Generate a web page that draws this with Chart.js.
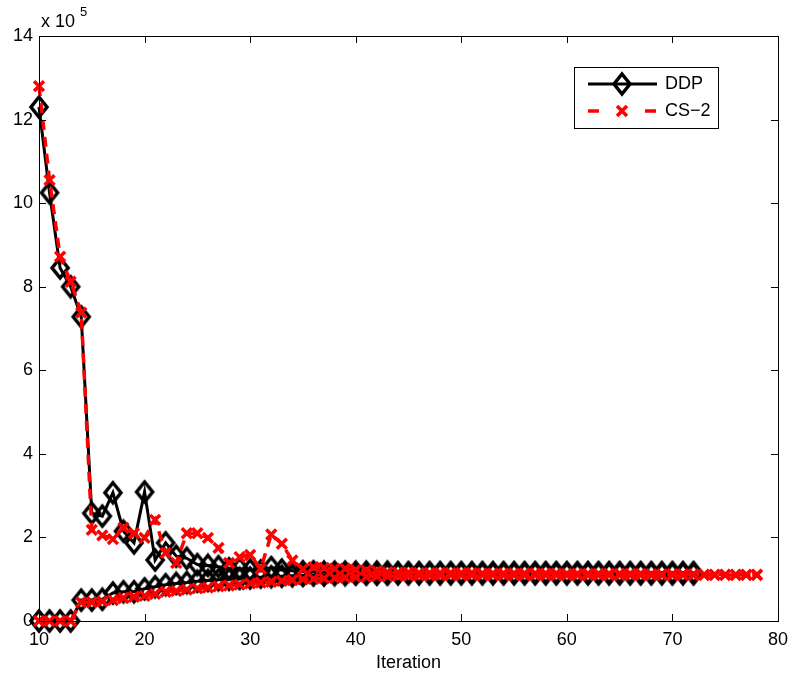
<!DOCTYPE html>
<html>
<head>
<meta charset="utf-8">
<script src="https://cdn.jsdelivr.net/npm/chart.js@4.4.0/dist/chart.umd.min.js"></script>
<style>
  html, body { margin: 0; padding: 0; background: #fff; }
  #wrap { width: 796px; height: 680px; }
</style>
</head>
<body>
<div id="wrap"><canvas id="chart" width="796" height="680"></canvas></div>
<script>
// Iteration numbers (x) and values in units of 10^5
const iterations = [10, 11, 12, 13, 14, 15, 16, 17, 18, 19, 20, 21, 22, 23, 24, 25, 26, 27, 28, 29,
  30, 31, 32, 33, 34, 35, 36, 37, 38, 39, 40, 41, 42, 43, 44, 45, 46, 47, 48, 49,
  50, 51, 52, 53, 54, 55, 56, 57, 58, 59, 60, 61, 62, 63, 64, 65, 66, 67, 68, 69,
  70, 71, 72, 73, 74, 75, 76, 77, 78];

// DDP runs from 10 to 72
const ddpUpper = [12.3, 10.25, 8.45, 8.0, 7.28, 2.58, 2.51, 3.07, 2.15, 1.87, 3.09, 1.46, 1.87, 1.55, 1.5, 1.35, 1.33, 1.3, 1.25, 1.25,
  1.22, 1.2, 1.28, 1.22, 1.2, 1.18, 1.18, 1.17, 1.17, 1.17, 1.17, 1.17, 1.17, 1.17, 1.16, 1.16, 1.16, 1.16, 1.16, 1.16,
  1.16, 1.16, 1.16, 1.16, 1.16, 1.16, 1.16, 1.16, 1.16, 1.16, 1.16, 1.16, 1.16, 1.16, 1.16, 1.16, 1.16, 1.16, 1.16, 1.16,
  1.16, 1.16, 1.16];
const ddpLower = [0, 0, 0, 0, 0.5, 0.5, 0.52, 0.67, 0.7, 0.7, 0.77, 0.82, 0.87, 0.9, 0.92, 0.95, 0.97, 0.99, 1.0, 1.02,
  1.03, 1.05, 1.06, 1.07, 1.08, 1.09, 1.1, 1.1, 1.11, 1.11, 1.12, 1.12, 1.12, 1.12, 1.13, 1.13, 1.13, 1.13, 1.13, 1.13,
  1.13, 1.13, 1.13, 1.13, 1.13, 1.13, 1.13, 1.13, 1.13, 1.13, 1.13, 1.13, 1.13, 1.13, 1.13, 1.13, 1.13, 1.13, 1.13, 1.13,
  1.13, 1.13, 1.13];

// CS-2 runs from 10 to 78
const csUpper = [12.8, 10.55, 8.72, 8.12, 7.38, 2.18, 2.05, 1.96, 2.23, 2.1, 1.99, 2.42, 1.63, 1.39, 2.1, 2.1, 1.99, 1.75, 1.39, 1.53,
  1.58, 1.25, 2.07, 1.85, 1.45, 1.24, 1.29, 1.27, 1.25, 1.25, 1.22, 1.21, 1.2, 1.17, 1.16, 1.16, 1.15, 1.15, 1.15, 1.15,
  1.15, 1.15, 1.14, 1.14, 1.14, 1.14, 1.14, 1.14, 1.14, 1.14, 1.13, 1.13, 1.13, 1.13, 1.13, 1.13, 1.13, 1.13, 1.12, 1.12,
  1.12, 1.12, 1.12, 1.11, 1.11, 1.11, 1.11, 1.11, 1.11];
const csLower = [0, 0, 0, 0, 0.45, 0.45, 0.47, 0.5, 0.55, 0.58, 0.6, 0.65, 0.7, 0.72, 0.75, 0.78, 0.8, 0.83, 0.85, 0.87,
  0.9, 0.92, 0.94, 0.96, 0.98, 1.0, 1.01, 1.02, 1.03, 1.04, 1.05, 1.06, 1.07, 1.07, 1.08, 1.08, 1.09, 1.09, 1.09, 1.1,
  1.1, 1.1, 1.1, 1.1, 1.1, 1.1, 1.1, 1.1, 1.1, 1.1, 1.1, 1.1, 1.1, 1.1, 1.1, 1.1, 1.1, 1.1, 1.1, 1.1,
  1.1, 1.1, 1.1, 1.1, 1.1, 1.1, 1.1, 1.1, 1.1];

const seriesNames = ['DDP', 'CS\u22122'];
const xTicks = [10, 20, 30, 40, 50, 60, 70, 80];
const yTicks = [0, 2, 4, 6, 8, 10, 12, 14];

const FONT = 'Liberation Sans, Arial, Helvetica, sans-serif';

function points(values) {
  return values.map((v, i) => ({ x: iterations[i], y: v }));
}

// MATLAB-like diamond marker: a little taller than wide, hollow
function makeDiamond() {
  const c = document.createElement('canvas');
  c.width = 22;
  c.height = 26;
  const g = c.getContext('2d');
  g.strokeStyle = '#000';
  g.lineWidth = 3.5;
  g.lineJoin = 'miter';
  g.beginPath();
  g.moveTo(11, 3);
  g.lineTo(19, 13);
  g.lineTo(11, 23);
  g.lineTo(3, 13);
  g.closePath();
  g.stroke();
  return c;
}
const diamond = makeDiamond();

const ddpStyle = {
  borderColor: '#000',
  borderWidth: 3,
  pointStyle: diamond,
  pointRadius: 9,
  pointBorderColor: '#000',
  pointBackgroundColor: 'rgba(0,0,0,0)',
  tension: 0,
  clip: false,
  order: 1
};
const csStyle = {
  borderColor: '#ff0000',
  borderWidth: 3.5,
  borderDash: [10, 7],
  pointStyle: 'crossRot',
  pointRadius: 7,
  pointBorderColor: '#ff0000',
  pointBackgroundColor: '#ff0000',
  pointBorderWidth: 3.5,
  tension: 0,
  clip: false,
  order: 0
};

// Box, inward ticks, exponent and legend in the MATLAB style
const matlabFrame = {
  id: 'matlabFrame',
  afterDraw(chart) {
    const ctx = chart.ctx;
    const a = chart.chartArea;
    const xs = chart.scales.x;
    const ys = chart.scales.y;
    ctx.save();
    ctx.strokeStyle = '#000';
    ctx.lineWidth = 1;
    ctx.strokeRect(a.left + 0.5, a.top + 0.5, a.right - a.left, a.bottom - a.top);
    ctx.beginPath();
    for (const t of xTicks) {
      const px = Math.round(xs.getPixelForValue(t)) + 0.5;
      ctx.moveTo(px, a.bottom); ctx.lineTo(px, a.bottom - 7);
      ctx.moveTo(px, a.top); ctx.lineTo(px, a.top + 7);
    }
    for (const t of yTicks) {
      const py = Math.round(ys.getPixelForValue(t)) + 0.5;
      ctx.moveTo(a.left, py); ctx.lineTo(a.left + 7, py);
      ctx.moveTo(a.right, py); ctx.lineTo(a.right - 7, py);
    }
    ctx.stroke();

    // x 10^5
    ctx.fillStyle = '#000';
    ctx.textBaseline = 'alphabetic';
    ctx.textAlign = 'left';
    ctx.font = '18px ' + FONT;
    ctx.fillText('x 10', 41, 27);
    ctx.font = '13px ' + FONT;
    ctx.fillText('5', 80, 16);

    // legend
    const lx = 574, ly = 67, lw = 144, lh = 61;
    ctx.fillStyle = '#fff';
    ctx.fillRect(lx, ly, lw, lh);
    ctx.strokeStyle = '#000';
    ctx.lineWidth = 1;
    ctx.strokeRect(lx + 0.5, ly + 0.5, lw, lh);

    const r1 = 84, r2 = 111;
    ctx.lineWidth = 3;
    ctx.beginPath();
    ctx.moveTo(588, r1); ctx.lineTo(657, r1);
    ctx.stroke();
    ctx.drawImage(diamond, 622 - diamond.width / 2, r1 - diamond.height / 2);

    ctx.strokeStyle = '#ff0000';
    ctx.fillStyle = '#ff0000';
    ctx.lineWidth = 3.5;
    ctx.beginPath();
    ctx.moveTo(588, r2); ctx.lineTo(599, r2);
    ctx.moveTo(645, r2); ctx.lineTo(656, r2);
    ctx.stroke();
    Chart.helpers.drawPoint(ctx, { pointStyle: 'crossRot', radius: 7, rotation: 0, borderWidth: 3.5 }, 622, r2);

    ctx.fillStyle = '#000';
    ctx.font = '18px ' + FONT;
    ctx.textBaseline = 'middle';
    ctx.fillText(seriesNames[0], 665, r1);
    ctx.fillText(seriesNames[1], 665, r2);
    ctx.restore();
  }
};

new Chart(document.getElementById('chart'), {
  type: 'line',
  data: {
    datasets: [
      Object.assign({ label: seriesNames[0], data: points(ddpUpper) }, ddpStyle),
      Object.assign({ label: seriesNames[0] + ' low', data: points(ddpLower) }, ddpStyle),
      Object.assign({ label: seriesNames[1], data: points(csUpper) }, csStyle),
      Object.assign({ label: seriesNames[1] + ' low', data: points(csLower) }, csStyle)
    ]
  },
  options: {
    responsive: false,
    animation: false,
    devicePixelRatio: 1,
    layout: { padding: { left: 0, right: 15, top: 36, bottom: 0 } },
    plugins: {
      legend: { display: false },
      tooltip: { enabled: false },
      title: { display: false }
    },
    scales: {
      x: {
        type: 'linear',
        min: 10,
        max: 80,
        afterBuildTicks: (s) => { s.ticks = xTicks.map(v => ({ value: v })); },
        afterFit: (s) => { s.height = 59; },
        grid: { display: false, drawTicks: false },
        border: { display: false },
        ticks: { color: '#000', padding: 8, maxRotation: 0, font: { family: FONT, size: 18 } },
        title: {
          display: true,
          text: 'Iteration',
          color: '#000',
          padding: { top: 0, bottom: 6 },
          font: { family: FONT, size: 18 }
        }
      },
      y: {
        min: 0,
        max: 14,
        afterBuildTicks: (s) => { s.ticks = yTicks.map(v => ({ value: v })); },
        afterFit: (s) => { s.width = 39; },
        grid: { display: false, drawTicks: false },
        border: { display: false },
        ticks: { color: '#000', padding: 6, font: { family: FONT, size: 18 } }
      }
    }
  },
  plugins: [matlabFrame]
});
</script>
</body>
</html>
